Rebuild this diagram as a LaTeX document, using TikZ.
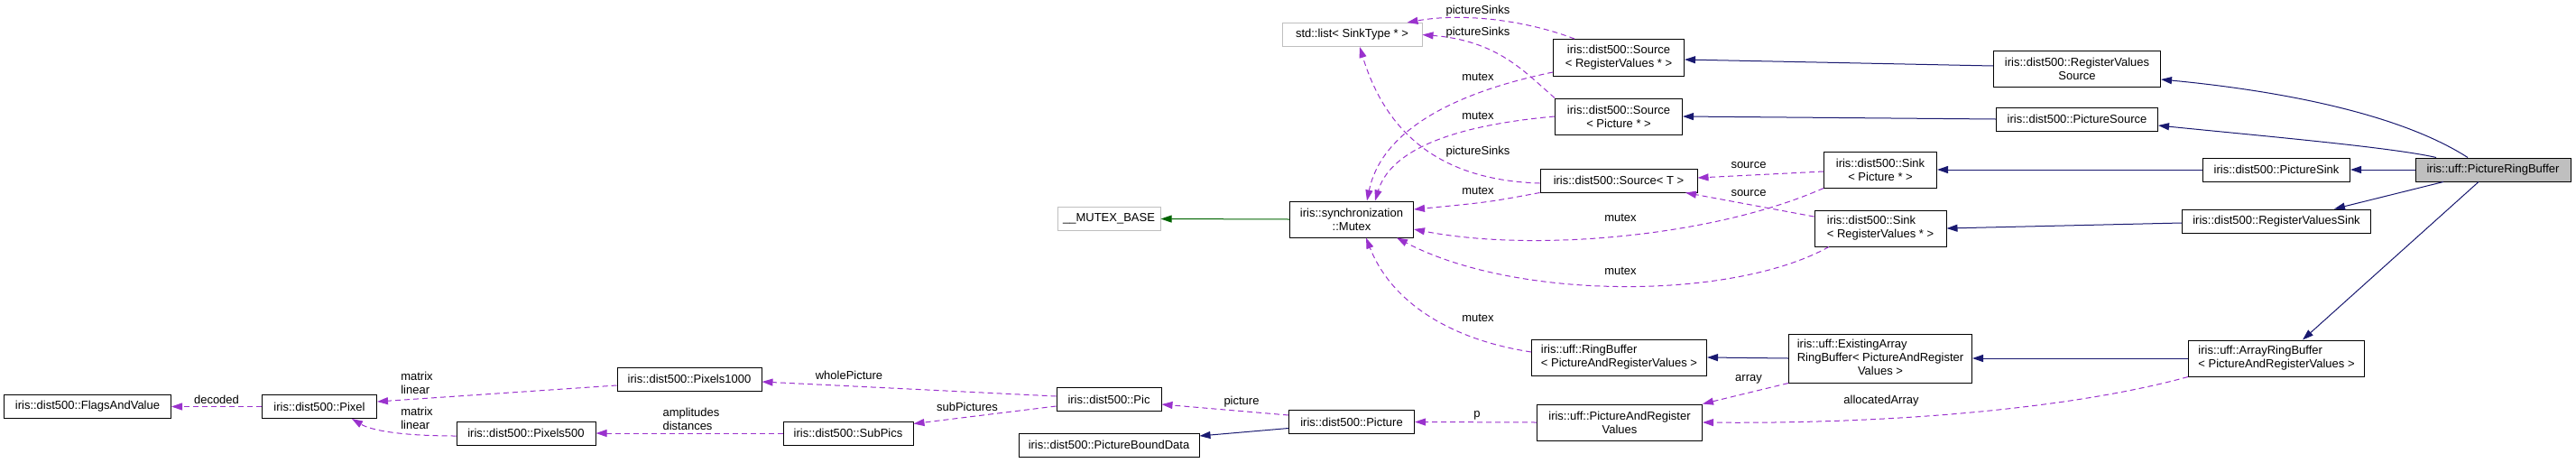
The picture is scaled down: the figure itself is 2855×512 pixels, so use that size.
\documentclass[tikz,border=0pt]{standalone}
\usepackage{fontspec}
\setmainfont{Liberation Sans}
\usepackage{tikz}
\usetikzlibrary{arrows.meta}
\definecolor{doxnavy}{HTML}{191970}
\definecolor{doxpurple}{HTML}{9A32CD}
\definecolor{doxgreen}{HTML}{006400}
\definecolor{doxgray}{HTML}{BFBFBF}
\newcommand{\dxfont}{\fontsize{13}{15}\selectfont}
\tikzstyle{cls} = [rectangle, draw=black, fill=white, line width=1pt, inner sep=0pt,
    font=\dxfont, align=center, minimum height=26pt]
\tikzstyle{tall} = [minimum height=40pt]
\tikzstyle{extcls} = [cls, draw=doxgray]
\tikzstyle{curcls} = [cls, fill=doxgray]
\tikzstyle{inherit} = [-{Triangle[length=12pt,width=8pt]}, line width=1pt, doxnavy]
\tikzstyle{usage} = [-{Triangle[length=12pt,width=8pt]}, line width=1pt, doxpurple, dash pattern=on 6pt off 4pt]
\tikzstyle{lbl} = [font=\dxfont, inner sep=0pt, align=left]

\begin{document}
\begin{tikzpicture}[x=1pt, y=-1pt]
\useasboundingbox (0,0) rectangle (2855,512);

\node[cls, minimum width=185pt] (flags) at (97,450.5) {iris::dist500::FlagsAndValue};
\node[cls, minimum width=127pt] (pixel) at (354,450.5) {iris::dist500::Pixel};
\node[cls, minimum width=154pt] (pix500) at (583,480) {iris::dist500::Pixels500};
\node[cls, minimum width=160pt] (pix1000) at (764,420) {iris::dist500::Pixels1000};
\node[cls, minimum width=144pt] (subpics) at (940,480) {iris::dist500::SubPics};
\node[cls, minimum width=116pt] (pic) at (1229,442.5) {iris::dist500::Pic};
\node[cls, minimum width=200pt] (bound) at (1229,493) {iris::dist500::PictureBoundData};
\node[extcls, minimum width=114pt] (mbase) at (1229,242.5) {\_\_MUTEX\_BASE};
\node[cls, tall, minimum width=137pt] (mutex) at (1498,243) {iris::synchronization\\::Mutex};
\node[extcls, minimum width=155pt] (slist) at (1498.5,38.5) {std::list< SinkType * >};
\node[cls, minimum width=139pt] (picture) at (1498,467.5) {iris::dist500::Picture};
\node[cls, tall, minimum width=145pt, minimum height=41pt] (srcrv) at (1794,64) {iris::dist500::Source\\< RegisterValues * >};
\node[cls, tall, minimum width=141pt] (srcpic) at (1794,129) {iris::dist500::Source\\< Picture * >};
\node[cls, minimum width=174pt] (srct) at (1794,200) {iris::dist500::Source< T >};
\node[cls, tall, minimum width=194pt, align=left] (ring) at (1794.5,396) {iris::uff::RingBuffer\\< PictureAndRegisterValues >};
\node[cls, tall, minimum width=183pt] (parv) at (1795,468) {iris::uff::PictureAndRegister\\Values};
\node[cls, tall, minimum width=125pt] (sinkpic) at (2084,188) {iris::dist500::Sink\\< Picture * >};
\node[cls, tall, minimum width=146pt, align=left] (sinkrv) at (2084,253) {iris::dist500::Sink\\< RegisterValues * >};
\node[cls, minimum width=203pt, minimum height=54pt] (exist) at (2084,397)
    {\begin{tabular}{@{}l@{}}iris::uff::ExistingArray\\RingBuffer< PictureAndRegister\\\multicolumn{1}{@{}c@{}}{Values >}\end{tabular}};
\node[cls, tall, minimum width=185pt] (rvsrc) at (2302,76) {iris::dist500::RegisterValues\\Source};
\node[cls, minimum width=179pt] (picsrc) at (2302,132) {iris::dist500::PictureSource};
\node[cls, minimum width=163pt] (picsink) at (2523,188) {iris::dist500::PictureSink};
\node[cls, minimum width=209pt] (rvsink) at (2523,245) {iris::dist500::RegisterValuesSink};
\node[cls, tall, minimum width=195pt, align=left] (arb) at (2523,397) {iris::uff::ArrayRingBuffer\\< PictureAndRegisterValues >};
\node[curcls, minimum width=172pt] (prb) at (2763,188) {iris::uff::PictureRingBuffer};

\draw[inherit] ([xshift=-28pt]prb.north) .. controls (2650,120) and (2500,98) .. ([yshift=-12pt]rvsrc.east);
\draw[inherit] ([xshift=-63pt]prb.north) .. controls (2650,163) and (2500,150) .. ([yshift=-7pt]picsrc.east);
\draw[inherit] (prb.west) -- (picsink.east);
\draw[inherit] ([xshift=-55pt]prb.south) -- ([xshift=64pt]rvsink.north);
\draw[inherit] ([xshift=-16pt]prb.south) -- ([xshift=29pt]arb.north);
\draw[inherit] ([yshift=3pt]rvsrc.west) -- ([yshift=-2pt]srcrv.east);
\draw[inherit] (picsrc.west) -- (srcpic.east);
\draw[inherit] (picsink.west) -- (sinkpic.east);
\draw[inherit] ([yshift=-2pt]rvsink.west) -- (sinkrv.east);
\draw[inherit] (arb.west) -- (exist.east);
\draw[inherit] (exist.west) -- (ring.east);
\draw[inherit] ([yshift=-7pt]picture.west) -- ([yshift=10pt]bound.east);
\draw[inherit, doxgreen] (mutex.west) -- (mbase.east);

\draw[usage] ([xshift=-49pt]srcrv.north) .. controls (1690,22) and (1620,14) .. ([xshift=61pt]slist.north);
\node[lbl] (l1) at (1638,12) {pictureSinks};
\draw[usage] (srcpic.north west) .. controls (1690,80) and (1660,45) .. (slist.east);
\node[lbl] (l2) at (1638,36) {pictureSinks};
\draw[usage] ([yshift=-3pt]srct.west) .. controls (1610,200) and (1540,160) .. ([xshift=8.5pt]slist.south);
\node[lbl] (l3) at (1638,168) {pictureSinks};
\draw[usage] ([yshift=-16pt]srcrv.west) .. controls (1600,105) and (1530,150) .. ([xshift=17pt]mutex.north);
\node[lbl] (l4) at (1638,85) {mutex};
\draw[usage] (srcpic.west) .. controls (1600,140) and (1540,170) .. ([xshift=26pt]mutex.north);
\node[lbl] (l5) at (1638,128) {mutex};
\draw[usage] (srct.south west) .. controls (1650,224) .. ([yshift=11pt]mutex.east);
\node[lbl] (l6) at (1638,211) {mutex};
\draw[usage] ([yshift=-2pt]sinkpic.west) -- ([yshift=3pt]srct.east);
\node[lbl] (l7) at (1938,183) {source};
\draw[usage] ([yshift=13pt]sinkrv.west) -- ([xshift=74pt]srct.south);
\node[lbl] (l8) at (1938,214) {source};
\draw[usage] (sinkpic.south west) .. controls (1900,262) and (1700,280) .. ([yshift=-11pt]mutex.east);
\node[lbl] (l9) at (1796,241) {mutex};
\draw[usage] ([xshift=-57pt]sinkrv.south) .. controls (1920,333) and (1680,333) .. ([xshift=50pt]mutex.south);
\node[lbl] (l10) at (1796,300) {mutex};
\draw[usage] ([yshift=6pt]ring.west) .. controls (1600,375) and (1540,330) .. ([xshift=16pt]mutex.south);
\node[lbl] (l11) at (1638,352) {mutex};
\draw[usage] (exist.south west) -- (parv.north east);
\node[lbl] (l12) at (1938,420) {array};
\draw[usage] (arb.south west) .. controls (2300,452) and (2100,470) .. (parv.east);
\node[lbl] (l13) at (2085,444) {allocatedArray};
\draw[usage] (parv.west) -- (picture.east);
\node[lbl] (l14) at (1637,460) {p};
\draw[usage] ([yshift=7.5pt]picture.west) -- ([yshift=-5.5pt]pic.east);
\node[lbl] (l15) at (1376,445) {picture};
\draw[usage] ([yshift=3.5pt]pic.west) -- ([yshift=-3pt]pix1000.east);
\node[lbl] (l16) at (941,416) {wholePicture};
\draw[usage] ([yshift=-7.5pt]pic.west) -- ([yshift=-3pt]subpics.north east);
\node[lbl] (l17) at (1072,451) {subPictures};
\draw[usage] (subpics.west) -- (pix500.east);
\node[lbl] (l18) at (766,464) {amplitudes\\distances};
\draw[usage] ([yshift=-7pt]pix1000.west) -- ([yshift=5.5pt]pixel.east);
\node[lbl] (l19) at (462,424) {matrix\\linear};
\draw[usage] ([yshift=-3pt]pix500.west) .. controls (440,483) and (410,476) .. ([xshift=36pt]pixel.south);
\node[lbl] (l20) at (462,463) {matrix\\linear};
\draw[usage] (pixel.west) -- (flags.east);
\node[lbl] (l21) at (240,443) {decoded};
\end{tikzpicture}
\end{document}
